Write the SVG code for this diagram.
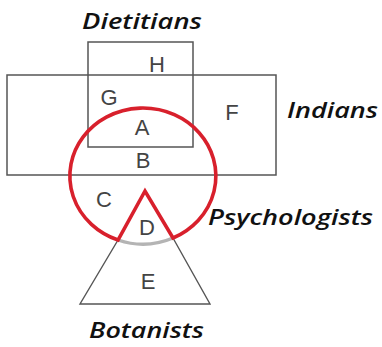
<svg xmlns="http://www.w3.org/2000/svg" width="382" height="347" viewBox="0 0 382 347">
<style>
.box{fill:none;stroke:#555;stroke-width:1.5}
.tri{fill:none;stroke:#555;stroke-width:1.4;stroke-linejoin:miter}
.red{fill:none;stroke:#d8202c;stroke-width:3.6;stroke-linejoin:miter}
.arc{fill:none;stroke:#b4b4b4;stroke-width:3.4}
.lt{font-family:"Liberation Sans",Arial,sans-serif;font-size:22px;fill:#444;text-anchor:middle}
.nm{font-family:"Open Sans","Noto Sans",sans-serif;font-style:italic;font-weight:600;font-size:21px;fill:#111}
</style>
<rect width="382" height="347" fill="#fff"/>
<g id="indians">
<rect class="box" x="7" y="75" width="269" height="100"/>
<text class="nm" x="287" y="118" textLength="91" lengthAdjust="spacingAndGlyphs">Indians</text>
</g>
<g id="dietitians">
<rect class="box" x="88" y="42" width="105" height="105"/>
<text class="nm" x="82" y="29" textLength="120" lengthAdjust="spacingAndGlyphs">Dietitians</text>
</g>
<g id="botanists">
<path class="tri" d="M118 240 L80 304 L210 304 L173 238"/>
<path class="arc" d="M118 240 A73 68 0 0 0 173 238"/>
<text class="nm" x="89" y="338" textLength="115" lengthAdjust="spacingAndGlyphs">Botanists</text>
</g>
<g id="psychologists">
<path class="red" d="M118 240 A73 68 0 1 1 173 238 L145 191 Z"/>
<text class="nm" x="208" y="225" textLength="165" lengthAdjust="spacingAndGlyphs">Psychologists</text>
</g>
<g id="regions">
<text class="lt" x="157" y="72">H</text>
<text class="lt" x="109" y="105">G</text>
<text class="lt" x="232" y="120">F</text>
<text class="lt" x="142" y="135">A</text>
<text class="lt" x="143" y="168">B</text>
<text class="lt" x="104" y="207">C</text>
<text class="lt" x="147" y="235">D</text>
<text class="lt" x="148" y="289">E</text>
</g>
</svg>
